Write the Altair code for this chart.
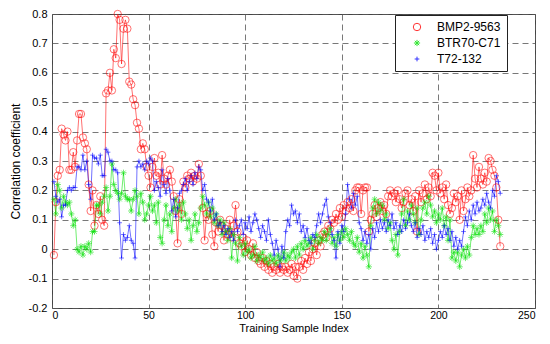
import altair as alt
import pandas as pd

series_names = ["BMP2-9563", "BTR70-C71", "T72-132"]

bmp2 = [
    -0.02, 0.16, 0.25, 0.27, 0.41, 0.39, 0.37, 0.40, 0.27, 0.27,
    0.33, 0.28, 0.37, 0.46, 0.46, 0.38, 0.36, 0.34, 0.22, 0.13,
    0.20, 0.08, 0.15, 0.12, 0.18, 0.10, 0.08, 0.53, 0.54, 0.60,
    0.54, 0.68, 0.65, 0.80, 0.78, 0.63, 0.75, 0.78, 0.75, 0.57,
    0.56, 0.51, 0.49, 0.43, 0.41, 0.34, 0.36, 0.34, 0.28, 0.25,
    0.21, 0.28, 0.31, 0.25, 0.26, 0.22, 0.32, 0.24, 0.22, 0.25,
    0.27, 0.23, 0.18, 0.13, 0.02, 0.17, 0.12, 0.23, 0.21, 0.25,
    0.24, 0.26, 0.23, 0.25, 0.24, 0.29, 0.25, 0.14, 0.03, 0.12,
    0.10, 0.13, 0.05, 0.01, 0.09, 0.06, 0.10, 0.08, 0.03, 0.07,
    0.05, 0.10, 0.04, 0.08, 0.15, 0.06, 0.02, 0.01, 0.04, -0.01,
    0.03, 0.00, -0.02, 0.02, -0.03, -0.01, -0.04, -0.05, -0.03, -0.06,
    -0.04, -0.07, -0.05, -0.08, -0.06, -0.07, -0.05, -0.08, -0.06, -0.07,
    -0.06, -0.08, -0.07, -0.05, -0.09, -0.06, -0.10, -0.06, -0.04, -0.07,
    -0.03, -0.05, -0.01, -0.04, 0.00, 0.02, -0.02, 0.03, 0.01, 0.05,
    0.06, 0.04, 0.08, 0.07, 0.10, 0.09, 0.12, 0.10, 0.14, 0.11,
    0.15, 0.13, 0.16, 0.14, 0.17, 0.13, 0.20, 0.21, 0.21, 0.12,
    0.20, 0.21, 0.21, 0.06, 0.10, 0.12, 0.15, 0.11, 0.14, 0.16,
    0.13, 0.15, 0.12, 0.18, 0.20, 0.18, 0.19, 0.16, 0.20, 0.17,
    0.14, 0.16, 0.19, 0.20, 0.15, 0.17, 0.13, 0.18, 0.06, 0.20,
    0.16, 0.19, 0.22, 0.17, 0.21, 0.18, 0.26, 0.25, 0.20, 0.26,
    0.19, 0.21, 0.17, 0.22, 0.15, 0.12, 0.14, 0.19, 0.16, 0.18,
    0.10, 0.20, 0.13, 0.17, 0.21, 0.18, 0.20, 0.32, 0.24, 0.21,
    0.28, 0.24, 0.22, 0.26, 0.23, 0.31, 0.30, 0.27, 0.25, 0.21,
    0.10, 0.01,
]

btr70 = [
    0.17, 0.12, 0.22, 0.20, 0.14, 0.18, 0.16, 0.15, 0.16, 0.12,
    0.08, 0.10, 0.00, -0.01, 0.01, -0.02, 0.01, 0.00, 0.02, -0.01,
    0.06, 0.06, 0.15, 0.15, 0.12, 0.16, 0.18, 0.21, 0.13, 0.18,
    0.29, 0.22, 0.20, 0.19, 0.17, 0.19, 0.26, 0.18, 0.17, 0.17,
    0.13, 0.17, 0.20, 0.18, 0.12, 0.19, 0.16, 0.10, 0.12, 0.15,
    0.18, 0.13, 0.15, 0.09, 0.16, 0.04, 0.02, 0.10, 0.15, 0.08,
    0.12, 0.06, 0.14, 0.17, 0.13, 0.15, 0.10, 0.16, 0.12, 0.07,
    0.10, 0.03, 0.08, 0.12, 0.06, 0.09, 0.14, 0.18, 0.15, 0.12,
    0.16, 0.11, 0.14, 0.09, 0.12, 0.08, 0.10, 0.05, 0.09, 0.06,
    0.03, 0.07, -0.03, 0.05, 0.02, -0.04, 0.04, 0.01, -0.02, 0.02,
    -0.01, 0.00, -0.03, -0.02, 0.01, -0.04, -0.02, -0.03, -0.01, -0.04,
    -0.03, -0.05, -0.02, -0.04, -0.03, -0.05, -0.02, -0.04, -0.03, -0.01,
    -0.04, -0.02, -0.03, -0.01, 0.00, -0.03, 0.01, -0.02, 0.02, 0.00,
    0.03, 0.01, 0.02, 0.04, 0.00, 0.03, 0.05, 0.02, 0.04, 0.03,
    0.06, 0.03, 0.05, 0.07, 0.02, 0.04, 0.01, 0.05, 0.03, 0.06,
    0.04, 0.07, 0.05, 0.03, 0.06, 0.02, 0.01, 0.04, -0.01, 0.02,
    -0.03, 0.01, -0.02, -0.06, 0.08, 0.14, 0.17, 0.12, 0.16, 0.13,
    0.15, 0.10, 0.12, 0.07, 0.09, 0.03, 0.00, 0.05, -0.02, 0.06,
    0.12, 0.17, 0.08, 0.13, 0.10, 0.15, 0.12, 0.09, 0.14, 0.05,
    0.10, 0.14, 0.16, 0.12, 0.18, 0.15, 0.11, 0.13, 0.09, 0.12,
    0.10, 0.14, 0.08, 0.11, 0.03, 0.10, -0.03, -0.01, -0.04, -0.01,
    -0.06, -0.02, 0.00, -0.03, 0.01, -0.02, 0.04, 0.08, 0.05, 0.07,
    0.05, 0.08, 0.06, 0.12, 0.09, 0.14, 0.10, 0.13, 0.06, 0.10,
    0.08, 0.05,
]

t72 = [
    0.23, 0.18, 0.16, 0.17, 0.11, 0.15, 0.15, 0.20, 0.21, 0.20,
    0.21, 0.21, 0.28, 0.28, 0.27, 0.32, 0.27, 0.30, 0.22, 0.17,
    0.32, 0.31, 0.31, 0.29, 0.32, 0.25, 0.25, 0.34, 0.33, 0.30,
    0.30, 0.27, 0.27, 0.26, 0.09, -0.03, 0.05, 0.03, 0.04, 0.08,
    0.03, 0.02, -0.03, 0.28, 0.30, 0.28, 0.29, 0.27, 0.30, 0.29,
    0.31, 0.30, 0.20, 0.23, 0.21, 0.18, 0.27, 0.22, 0.19, 0.24,
    0.20, 0.13, 0.17, 0.11, 0.14, 0.19, 0.20, 0.22, 0.24, 0.20,
    0.23, 0.25, 0.22, 0.26, 0.24, 0.28, 0.27, 0.20, 0.22, 0.17,
    0.16, 0.13, 0.17, 0.10, 0.12, 0.08, 0.09, 0.06, 0.08, 0.05,
    0.07, 0.04, 0.06, 0.03, 0.10, 0.06, 0.08, 0.10, 0.05, 0.09,
    0.07, 0.11, 0.06, 0.09, 0.12, 0.10, 0.07, 0.04, 0.08, 0.06,
    0.03, 0.10, 0.05, 0.02, -0.02, 0.03, 0.00, -0.06, 0.01, -0.03,
    0.06, 0.10, 0.08, 0.15, 0.12, 0.13, 0.09, 0.12, 0.06, 0.08,
    0.04, 0.07, 0.03, 0.02, 0.05, 0.04, 0.08, 0.12, 0.09, 0.12,
    0.15, 0.17, 0.11, 0.09, 0.05, 0.03, -0.03, 0.06, 0.02, 0.08,
    0.06, 0.12, 0.22, 0.17, 0.14, 0.19, 0.15, 0.18, 0.09, 0.07,
    0.03, 0.06, 0.02, 0.05, 0.00, 0.07, 0.04, 0.09, 0.06, 0.10,
    0.07, 0.09, 0.06, 0.10, 0.08, 0.12, 0.07, 0.09, 0.05, 0.08,
    0.06, 0.10, 0.07, 0.09, 0.12, 0.08, 0.06, 0.09, 0.04, 0.07,
    0.05, 0.08, 0.03, 0.06, 0.04, 0.07, 0.02, 0.05, 0.00, 0.03,
    0.06, 0.04, 0.08, 0.05, 0.07, 0.03, 0.06, 0.01, 0.04, 0.00,
    0.03, 0.01, 0.06, 0.11, 0.08, 0.13, 0.10, 0.15, 0.12, 0.16,
    0.13, 0.14, 0.17, 0.15, 0.19, 0.16, 0.14, 0.20, 0.18, 0.25,
    0.23, 0.19,
]

x_ticks = [0, 50, 100, 150, 200, 250]
y_ticks = [-0.2, -0.1, 0, 0.1, 0.2, 0.3, 0.4, 0.5, 0.6, 0.7, 0.8]

rows = []
for name, vals in zip(series_names, [bmp2, btr70, t72]):
    for i, v in enumerate(vals):
        rows.append({"idx": i + 1, "value": v, "series": name})
df = pd.DataFrame(rows)

colors = ["#ff0000", "#00e000", "#0000ff"]
star = "M-1,0L1,0M0,-1L0,1M-0.7,-0.7L0.7,0.7M-0.7,0.7L0.7,-0.7"
plus = "M-1,0L1,0M0,-1L0,1"
shapes = ["circle", star, plus]
sizes = [55, 22, 55]

FONT = "Liberation Sans"

x_enc = alt.X("idx:Q", scale=alt.Scale(domain=[0, 250], nice=False),
              axis=alt.Axis(values=x_ticks, tickCount=20, title="Training Sample Index",
                            grid=True, gridDash=[6, 4], gridColor="#555555",
                            gridWidth=0.8, ticks=False, labelPadding=2,
                            labelFontSize=10.5, titleFontSize=11,
                            titlePadding=2, domain=False, labelOverlap=False))
y_enc = alt.Y("value:Q", scale=alt.Scale(domain=[-0.2, 0.8], nice=False),
              axis=alt.Axis(values=y_ticks, tickCount=20, title="Correlation coefficient",
                            labelExpr="replace(format(datum.value, '.1~f'), '\u2212', '-')",
                            grid=True, gridDash=[6, 4], gridColor="#555555",
                            gridWidth=0.8, ticks=False, labelPadding=5,
                            titlePadding=6, domain=False, labelOverlap=False))
color_enc = alt.Color("series:N", scale=alt.Scale(domain=series_names, range=colors),
                      legend=alt.Legend(title=None, orient="none", legendX=343, legendY=1,
                                        strokeColor="#222222", fillColor="white",
                                        padding=6, rowPadding=4, symbolSize=60,
                                        symbolStrokeWidth=1, labelFontSize=12,
                                        labelFont=FONT, labelColor="#000000",
                                        symbolOffset=10, labelOffset=14))
shape_enc = alt.Shape("series:N", scale=alt.Scale(domain=series_names, range=shapes),
                      legend=alt.Legend(title=None, orient="none", legendX=343, legendY=1))
size_enc = alt.Size("series:N", scale=alt.Scale(domain=series_names, range=sizes),
                    legend=None)

lines = alt.Chart(df).mark_line(strokeWidth=0.7, opacity=0.8).encode(
    x=x_enc, y=y_enc, color=color_enc, detail="series:N"
)
pts = alt.Chart(df).mark_point(filled=False, strokeWidth=0.8).encode(
    x="idx:Q", y="value:Q", color=color_enc, shape=shape_enc, size=size_enc
)

chart = (lines + pts).properties(
    width=483, height=294,
    autosize=alt.AutoSizeParams(type="none"),
    padding={"left": 44, "top": 6, "right": 7, "bottom": 28},
    background="white",
).configure_view(stroke="#444444", strokeWidth=1).configure_axis(
    labelFont=FONT, titleFont=FONT, labelFontSize=11, titleFontSize=12,
    labelColor="#000000", titleColor="#000000", titleFontWeight="normal"
)

chart.save("out.html", embed_options={"renderer": "svg", "actions": False})
